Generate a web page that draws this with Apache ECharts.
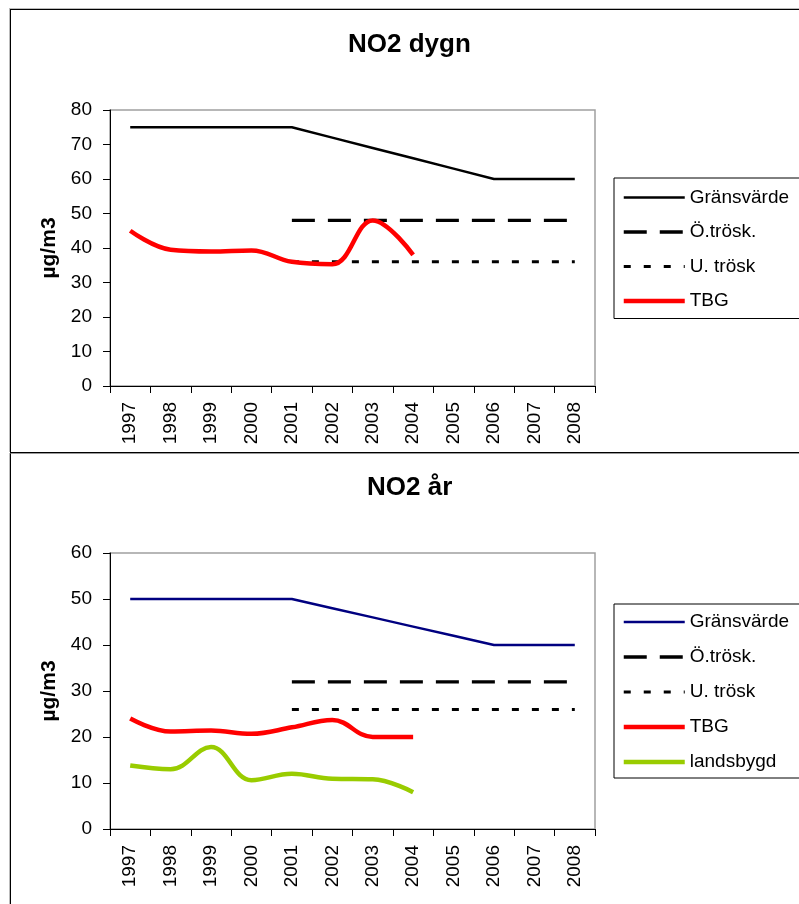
<!DOCTYPE html>
<html><head><meta charset="utf-8">
<script src="https://cdn.jsdelivr.net/npm/echarts@6/dist/echarts.min.js"></script>
<style>
html,body{margin:0;padding:0;width:799px;height:904px;overflow:hidden;background:#fff;}
#c1{position:absolute;left:0;top:0;width:799px;height:452px;}
#c2{position:absolute;left:0;top:452px;width:799px;height:452px;}
.frame{position:absolute;pointer-events:none;box-sizing:content-box;}
</style></head><body>
<div id="c1"></div><div id="c2"></div>
<div class="frame" style="left:10px;top:9px;width:1000px;height:442px;border:1px solid #000;box-shadow:-1px -1px 0 #bbb;"></div>
<div class="frame" style="left:10px;top:453px;width:1000px;height:600px;border-left:1px solid #000;border-top:1px solid #999;box-shadow:-1px 0 0 #bbb;"></div>
<script>
const years = ['1997','1998','1999','2000','2001','2002','2003','2004','2005','2006','2007','2008'];

// NO2 dygn
const dygnGrans = [75,75,75,75,75,72,69,66,63,60,60,60];
const dygnOvre  = [null,null,null,null,48,48,48,48,48,48,48,48];
const dygnUndre = [null,null,null,null,36,36,36,36,36,36,36,36];
const dygnTBG   = [45,39.5,39,39.3,36,35.3,48,38,null,null,null,null];

// NO2 år
const arGrans = [50,50,50,50,50,48,46,44,42,40,40,40];
const arOvre  = [null,null,null,null,32,32,32,32,32,32,32,32];
const arUndre = [null,null,null,null,26,26,26,26,26,26,26,26];
const arTBG   = [24,21.2,21.4,20.7,22.1,23.7,20,20,null,null,null,null];
const arLand  = [13.8,13,17.8,10.6,12,10.9,10.8,8,null,null,null,null];

const FONT = 'Liberation Sans, Arial, sans-serif';

function lineSeries(name, data, color, width, type, smooth) {
  return {
    name: name, type: 'line', data: data, symbol: 'none', smooth: smooth ? 0.4 : false,
    color: color, itemStyle: {color: color},
    lineStyle: {color: color, width: width, type: type || 'solid', cap: 'butt'},
    animation: false, emphasis: {disabled: true}, connectNulls: false
  };
}

const HIDE_SYM = {color: 'rgba(0,0,0,0)', borderColor: 'rgba(0,0,0,0)', borderWidth: 0, opacity: 0};
function legendItem(name, width) {
  return {name: name, lineStyle: {width: width}, itemStyle: HIDE_SYM};
}

function makeOption(cfg) {
  return {
    animation: false,
    title: {text: cfg.title, left: cfg.titleLeft, top: cfg.titleTop, padding: 0,
      textStyle: {fontSize: 26, fontWeight: 'bold', color: '#000', fontFamily: FONT}},
    legend: {orient: 'vertical', left: 614, top: cfg.legendTop, itemWidth: 61, itemHeight: 20,
      itemGap: cfg.legendGap, padding: cfg.legendPad, borderColor: '#000', borderWidth: 1,
      selectedMode: false, backgroundColor: '#fff',
      itemStyle: HIDE_SYM,
      textStyle: {fontSize: 19, color: '#000', fontFamily: FONT, lineHeight: 20},
      data: cfg.legendData},
    grid: {left: 110, width: 485, top: cfg.gridTop, height: cfg.gridHeight, show: true,
      borderColor: '#a0a0a0', borderWidth: 1.5, backgroundColor: 'transparent',
      containLabel: false, outerBoundsMode: 'none'},
    xAxis: {type: 'category', data: years, boundaryGap: true,
      axisLine: {show: true, lineStyle: {color: '#000', width: 1}},
      axisTick: {show: true, length: 7, interval: 0, lineStyle: {color: '#000'}},
      axisLabel: {rotate: 90, interval: 0, margin: 16, fontSize: 19, color: '#000', fontFamily: FONT},
      splitLine: {show: false}},
    yAxis: {type: 'value', min: 0, max: cfg.yMax, interval: 10,
      axisLine: {show: true, lineStyle: {color: '#000', width: 1}},
      axisTick: {show: true, length: 7, lineStyle: {color: '#000'}},
      axisLabel: {margin: 18, fontSize: 19, color: '#000', fontFamily: FONT},
      splitLine: {show: false},
      name: 'µg/m3', nameLocation: 'middle', nameGap: 50,
      nameTextStyle: {fontSize: 21, fontWeight: 'bold', color: '#000', fontFamily: FONT}},
    series: cfg.series
  };
}

const c1 = echarts.init(document.getElementById('c1'), null, {renderer: 'canvas'});
c1.setOption(makeOption({
  title: 'NO2 dygn', titleLeft: 348, titleTop: 32,
  legendTop: 178, legendGap: 14.5, legendPad: [9.5, 14, 7.5, 7.5],
  gridTop: 110, gridHeight: 276, yMax: 80,
  legendData: [
    legendItem('Gränsvärde', 2.5),
    legendItem('Ö.trösk.', 3.3),
    legendItem('U. trösk', 3),
    legendItem('TBG', 4.5)
  ],
  series: [
    lineSeries('Gränsvärde', dygnGrans, '#000000', 2.5),
    lineSeries('Ö.trösk.', dygnOvre, '#000000', 3.3, [23, 13]),
    lineSeries('U. trösk', dygnUndre, '#000000', 3, [7, 13]),
    lineSeries('TBG', dygnTBG, '#ff0000', 4.5, 'solid', true)
  ]
}));

const c2 = echarts.init(document.getElementById('c2'), null, {renderer: 'canvas'});
c2.setOption(makeOption({
  title: 'NO2 år', titleLeft: 367, titleTop: 23,
  legendTop: 152, legendGap: 15, legendPad: [8, 14, 6, 7.5],
  gridTop: 101, gridHeight: 276, yMax: 60,
  legendData: [
    legendItem('Gränsvärde', 2.5),
    legendItem('Ö.trösk.', 3.3),
    legendItem('U. trösk', 3),
    legendItem('TBG', 4.5),
    legendItem('landsbygd', 4.5)
  ],
  series: [
    lineSeries('Gränsvärde', arGrans, '#000080', 2.5),
    lineSeries('Ö.trösk.', arOvre, '#000000', 3.3, [23, 13]),
    lineSeries('U. trösk', arUndre, '#000000', 3, [7, 13]),
    lineSeries('TBG', arTBG, '#ff0000', 4.5, 'solid', true),
    lineSeries('landsbygd', arLand, '#99cc00', 4.5, 'solid', true)
  ]
}));
</script>
</body></html>
